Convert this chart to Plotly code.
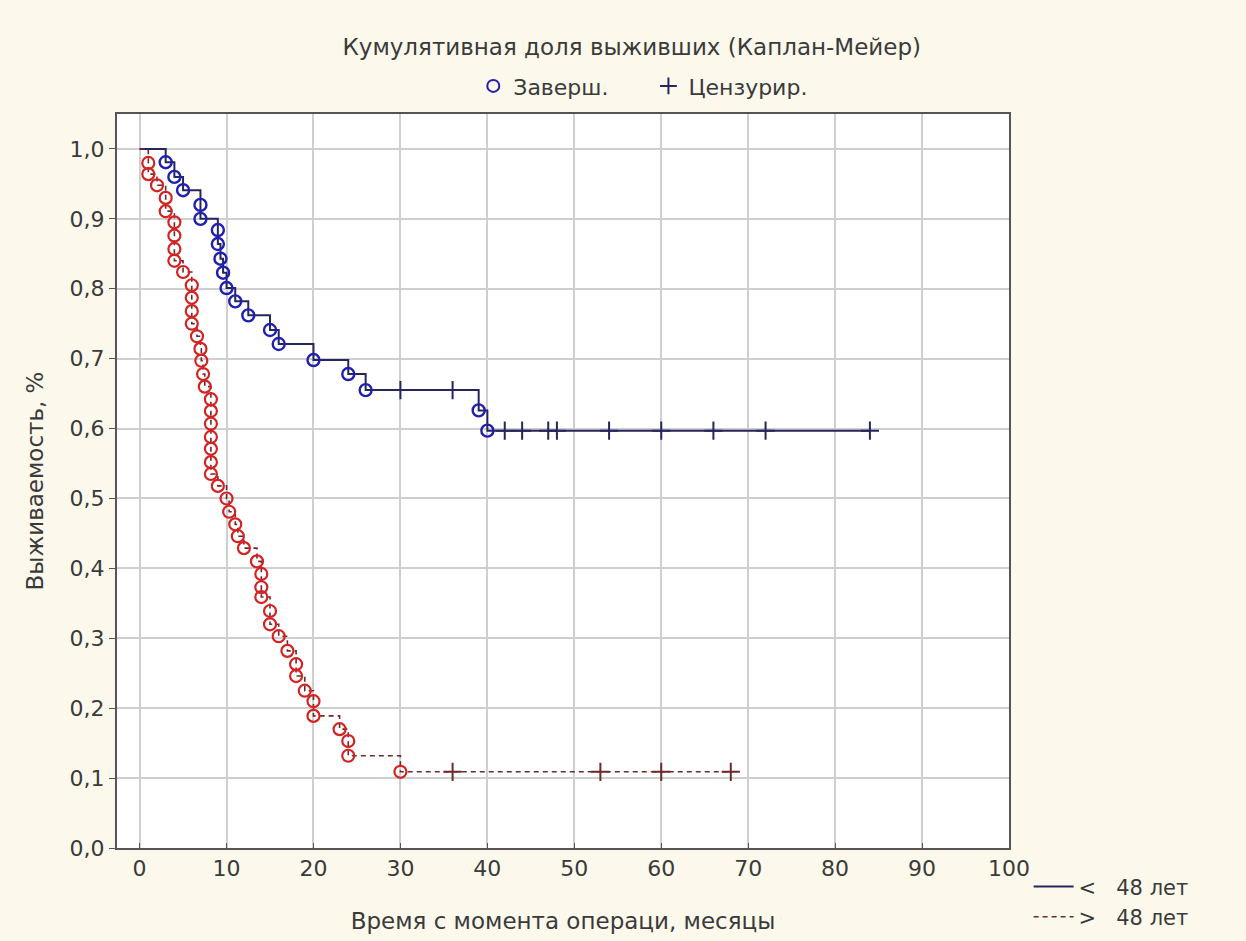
import plotly.graph_objects as go

# Группа "< 48 лет": моменты событий (мес.) и оценка выживаемости после каждого события
young_event_t = [3, 4, 5, 7, 7, 9, 9, 9.3, 9.6, 10, 11, 12.5, 15, 16, 20, 24, 26, 39, 40]
young_event_s = [0.981, 0.960, 0.941, 0.920, 0.900, 0.884, 0.864, 0.843, 0.823, 0.801,
                 0.782, 0.762, 0.741, 0.721, 0.698, 0.678, 0.655, 0.626, 0.597]
young_cens_t = [30, 36, 42, 44, 47, 48, 54, 60, 66, 72, 84]
young_cens_s = [0.655, 0.655, 0.597, 0.597, 0.597, 0.597, 0.597, 0.597, 0.597, 0.597, 0.597]

# Группа "> 48 лет"
old_event_t = [1, 1, 2, 3, 3, 4, 4, 4, 4, 5, 6, 6, 6, 6, 6.6, 7, 7.1, 7.3, 7.5,
               8.2, 8.2, 8.2, 8.2, 8.2, 8.2, 8.2, 9, 10, 10.3, 11, 11.3, 12, 13.5,
               14, 14, 14, 15, 15, 16, 17, 18, 18, 19, 20, 20, 23, 24, 24, 30]
old_event_s = [0.980, 0.964, 0.948, 0.930, 0.911, 0.895, 0.876, 0.857, 0.840, 0.824,
               0.805, 0.787, 0.768, 0.750, 0.732, 0.714, 0.697, 0.678, 0.660, 0.642,
               0.625, 0.607, 0.588, 0.571, 0.552, 0.535, 0.518, 0.500, 0.481, 0.463,
               0.446, 0.429, 0.410, 0.392, 0.373, 0.359, 0.339, 0.320, 0.303, 0.282,
               0.263, 0.246, 0.225, 0.210, 0.189, 0.170, 0.153, 0.132, 0.109]
old_cens_t = [36, 53, 60, 68]
old_cens_s = [0.109, 0.109, 0.109, 0.109]

y_ticks = [0.0, 0.1, 0.2, 0.3, 0.4, 0.5, 0.6, 0.7, 0.8, 0.9, 1.0]
x_ticks = [0, 10, 20, 30, 40, 50, 60, 70, 80, 90, 100]

FONT = "DejaVu Sans, Arial, sans-serif"
TXT = "#3a3a3a"
BLUE_LINE = "#26265e"
RED_LINE = "#6b2b2b"
BLUE_MK = "#1f1fb0"
RED_MK = "#d42222"
NB = "\u00a0"


def step_path(ev_t, ev_s, cens_t):
    """Step curve: starts at 1.0 at t=0, drops at each event, runs to the last observation."""
    xs = [0] + list(ev_t)
    ys = [1.0] + list(ev_s)
    last = max(cens_t) if cens_t else ev_t[-1]
    if last > xs[-1]:
        xs.append(last)
        ys.append(ys[-1])
    return xs, ys


fig = go.Figure()

yx, yy = step_path(young_event_t, young_event_s, young_cens_t)
ox, oy = step_path(old_event_t, old_event_s, old_cens_t)

fig.add_trace(go.Scatter(x=yx, y=yy, mode="lines", line_shape="hv",
                         line=dict(color=BLUE_LINE, width=2),
                         name="<" + NB * 3 + "48 лет", legend="legend2"))
fig.add_trace(go.Scatter(x=ox, y=oy, mode="lines", line_shape="hv",
                         line=dict(color=RED_LINE, width=1.6, dash="5px,4px"),
                         name=">" + NB * 3 + "48 лет", legend="legend2"))

# завершённые наблюдения
fig.add_trace(go.Scatter(x=young_event_t, y=young_event_s, mode="markers",
                         marker=dict(symbol="circle-open", size=12, color=BLUE_MK,
                                     line=dict(width=2.4, color=BLUE_MK)),
                         showlegend=False))
fig.add_trace(go.Scatter(x=old_event_t, y=old_event_s, mode="markers",
                         marker=dict(symbol="circle-open", size=12, color=RED_MK,
                                     line=dict(width=2.2, color=RED_MK)),
                         showlegend=False))
# цензурированные наблюдения
fig.add_trace(go.Scatter(x=young_cens_t, y=young_cens_s, mode="markers",
                         marker=dict(symbol="cross-thin", size=13, color=BLUE_LINE,
                                     line=dict(width=2, color=BLUE_LINE)),
                         showlegend=False))
fig.add_trace(go.Scatter(x=old_cens_t, y=old_cens_s, mode="markers",
                         marker=dict(symbol="cross-thin", size=13, color=RED_LINE,
                                     line=dict(width=2, color=RED_LINE)),
                         showlegend=False))

# условные обозначения маркеров
fig.add_trace(go.Scatter(x=[None], y=[None], mode="markers", name="Заверш." + NB * 5,
                         marker=dict(symbol="circle-open", size=8, color=BLUE_MK,
                                     line=dict(width=2, color=BLUE_MK)),
                         legend="legend"))
fig.add_trace(go.Scatter(x=[None], y=[None], mode="markers", name="Цензурир.",
                         marker=dict(symbol="cross-thin", size=11, color=BLUE_LINE,
                                     line=dict(width=2, color=BLUE_LINE)),
                         legend="legend"))

fig.update_layout(
    width=1246, height=941,
    margin=dict(l=117, r=237, t=114, b=93, autoexpand=False),
    paper_bgcolor="#fcf9ec",
    plot_bgcolor="#ffffff",
    font=dict(family=FONT, color=TXT, size=21),
    separators=", ",
    title=dict(text="Кумулятивная доля выживших (Каплан-Мейер)",
               x=0.507, xanchor="center", y=1 - 47 / 941, yanchor="middle",
               font=dict(size=23, color=TXT)),
    legend=dict(orientation="h", x=0.59, xanchor="center", y=1.038, yanchor="middle",
                bgcolor="rgba(0,0,0,0)", font=dict(size=22, color=TXT),
                itemsizing="constant", itemwidth=30, tracegroupgap=0),
    legend2=dict(orientation="v", x=1.022, xanchor="left", y=-0.025, yanchor="top",
                 bgcolor="rgba(0,0,0,0)", font=dict(size=21, color=TXT),
                 itemwidth=40, tracegroupgap=0),
    xaxis=dict(range=[-2.6, 100], tickvals=x_ticks, ticktext=[str(v) for v in x_ticks],
               showgrid=True, gridcolor="#cfcfcf", gridwidth=1.5,
               showline=True, linecolor="#555555", linewidth=2, mirror=True,
               ticks="inside", ticklen=5, tickcolor="#555555", zeroline=False,
               tickfont=dict(size=22),
               title=dict(text="Время с момента операци, месяцы", standoff=32,
                          font=dict(size=23, color=TXT))),
    yaxis=dict(range=[0, 1.05], tickvals=y_ticks, tickformat=".1f",
               showgrid=True, gridcolor="#cfcfcf", gridwidth=1.5,
               showline=True, linecolor="#555555", linewidth=2, mirror=True,
               ticks="outside", ticklen=6, tickcolor="#555555", zeroline=False,
               tickfont=dict(size=22),
               title=dict(text="Выживаемость, %", standoff=20,
                          font=dict(size=23, color=TXT))),
)

fig.write_html("out.html")
